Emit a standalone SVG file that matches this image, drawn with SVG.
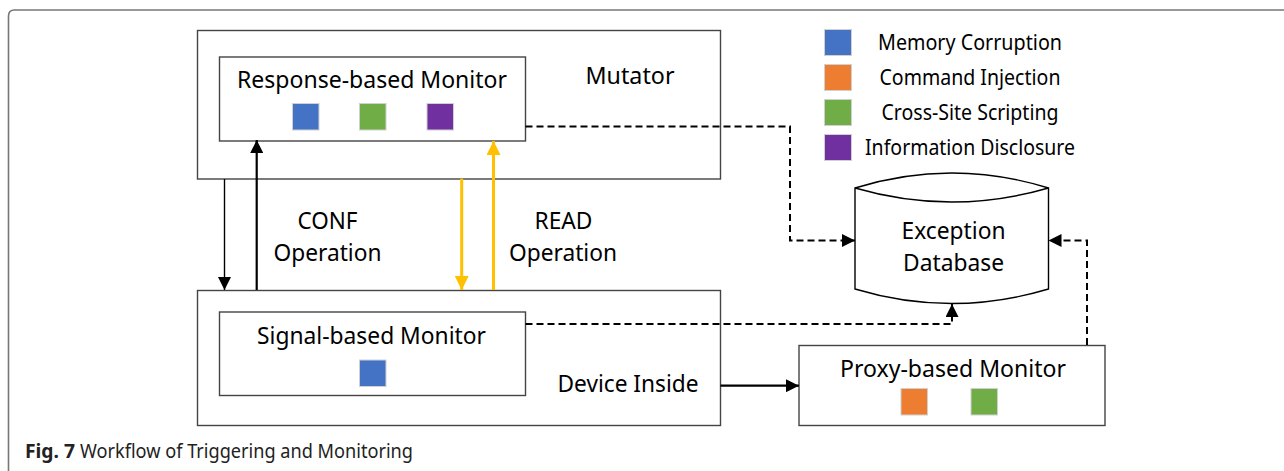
<svg xmlns="http://www.w3.org/2000/svg" width="1284" height="471" viewBox="0 0 1284 471">
<style>
.box{fill:#fff;stroke:#444;stroke-width:1.4}
.t{font-family:"Noto Sans","Liberation Sans",sans-serif;font-size:24px;fill:#000;text-anchor:middle}
.lg{font-family:"Noto Sans","Liberation Sans",sans-serif;font-size:21px;fill:#000;text-anchor:middle}
.cap{font-family:"Noto Sans","Liberation Sans",sans-serif;font-size:20px;fill:#222}
.sq{stroke:#d0d0d0;stroke-width:1}
.blue{fill:#4472C4}.orange{fill:#ED7D31}.green{fill:#70AD47}.purple{fill:#7030A0}
.dash{fill:none;stroke:#000;stroke-width:2;stroke-dasharray:7 4}
.solid{fill:none;stroke:#000}
.yel{fill:none;stroke:#FFC000;stroke-width:3}
</style>
<defs>
<marker id="ah" markerUnits="userSpaceOnUse" markerWidth="13" markerHeight="13" refX="13" refY="6.5" orient="auto"><path d="M0,0 L13,6.5 L0,13 Z" fill="#000"/></marker>
<marker id="ahy" markerUnits="userSpaceOnUse" markerWidth="14" markerHeight="14" refX="14" refY="7" orient="auto"><path d="M0,0 L14,7 L0,14 Z" fill="#FFC000"/></marker>
</defs>

<path d="M8.5,471 V16 Q8.5,10 14.5,10 H1284" fill="none" stroke="#777" stroke-width="1.6"/>

<g id="mutator">
<rect class="box" x="197.5" y="30.5" width="523" height="148.5"/>
<text class="t" x="630" y="84" textLength="89" lengthAdjust="spacingAndGlyphs">Mutator</text>
</g>
<g id="response-monitor">
<rect class="box" x="219.5" y="57" width="306" height="84"/>
<text class="t" x="372" y="88" textLength="270" lengthAdjust="spacingAndGlyphs">Response-based Monitor</text>
<rect class="sq blue" x="292.5" y="103.5" width="26.5" height="26.5"/>
<rect class="sq green" x="359.5" y="103.5" width="26.5" height="26.5"/>
<rect class="sq purple" x="427" y="103.5" width="26.5" height="26.5"/>
</g>

<g id="device-inside">
<rect class="box" x="197.5" y="290.5" width="523" height="135"/>
<text class="t" x="628" y="392" textLength="141" lengthAdjust="spacingAndGlyphs">Device Inside</text>
</g>
<g id="signal-monitor">
<rect class="box" x="219.5" y="312" width="306" height="83.5"/>
<text class="t" x="371.5" y="344" textLength="229" lengthAdjust="spacingAndGlyphs">Signal-based Monitor</text>
<rect class="sq blue" x="359.5" y="360" width="26.5" height="26.5"/>
</g>

<g id="proxy-monitor">
<rect class="box" x="799" y="345.5" width="306" height="80"/>
<text class="t" x="953" y="377" textLength="226" lengthAdjust="spacingAndGlyphs">Proxy-based Monitor</text>
<rect class="sq orange" x="901" y="388.5" width="26.5" height="26.5"/>
<rect class="sq green" x="971" y="388.5" width="26.5" height="26.5"/>
</g>

<g id="exception-db">
<path d="M855,188 Q951.5,158 1048.5,188 L1048.5,289 Q951.5,318 855,289 Z" fill="#fff" stroke="#000" stroke-width="1.4"/>
<path d="M855,188 Q951.5,216 1048.5,188" fill="none" stroke="#000" stroke-width="1.4"/>
<text class="t" x="953.5" y="239" textLength="104" lengthAdjust="spacingAndGlyphs">Exception</text>
<text class="t" x="953.5" y="271" textLength="101" lengthAdjust="spacingAndGlyphs">Database</text>
</g>

<g id="legend">
<rect class="sq blue" x="824.5" y="29.5" width="27" height="26"/>
<rect class="sq orange" x="824.5" y="64.5" width="27" height="26"/>
<rect class="sq green" x="824.5" y="99.5" width="27" height="26"/>
<rect class="sq purple" x="824.5" y="134.5" width="27" height="26"/>
<text class="lg" x="970" y="50" textLength="184" lengthAdjust="spacingAndGlyphs">Memory Corruption</text>
<text class="lg" x="970" y="85" textLength="181" lengthAdjust="spacingAndGlyphs">Command Injection</text>
<text class="lg" x="970" y="120" textLength="177" lengthAdjust="spacingAndGlyphs">Cross-Site Scripting</text>
<text class="lg" x="970" y="155" textLength="210" lengthAdjust="spacingAndGlyphs">Information Disclosure</text>
</g>

<g id="labels">
<text class="t" x="327.5" y="229" textLength="60" lengthAdjust="spacingAndGlyphs">CONF</text>
<text class="t" x="327.5" y="261" textLength="108" lengthAdjust="spacingAndGlyphs">Operation</text>
<text class="t" x="563.5" y="229" textLength="58" lengthAdjust="spacingAndGlyphs">READ</text>
<text class="t" x="563" y="261" textLength="108" lengthAdjust="spacingAndGlyphs">Operation</text>
</g>

<g id="connectors">
<path class="solid" d="M224.5,179 V290" stroke-width="1.4" marker-end="url(#ah)"/>
<path class="solid" d="M256.7,290 V140" stroke-width="2.2" marker-end="url(#ah)"/>
<path class="yel" d="M461.7,178.5 V290" marker-end="url(#ahy)"/>
<path class="yel" d="M493.5,290 V141" marker-end="url(#ahy)"/>
<path class="dash" d="M525.5,126.5 H790 V240.5 H855" marker-end="url(#ah)"/>
<path class="dash" d="M525.5,324 H952 V304" marker-end="url(#ah)"/>
<path class="dash" d="M1087,345 V240.5 H1048.5" marker-end="url(#ah)"/>
<path class="solid" d="M720.5,385.7 H799" stroke-width="2.2" marker-end="url(#ah)"/>
</g>

<g id="caption">
<text class="cap" x="25" y="458" font-weight="bold" textLength="50" lengthAdjust="spacingAndGlyphs">Fig. 7</text>
<text class="cap" x="80" y="458" textLength="333" lengthAdjust="spacingAndGlyphs">Workflow of Triggering and Monitoring</text>
</g>
</svg>
